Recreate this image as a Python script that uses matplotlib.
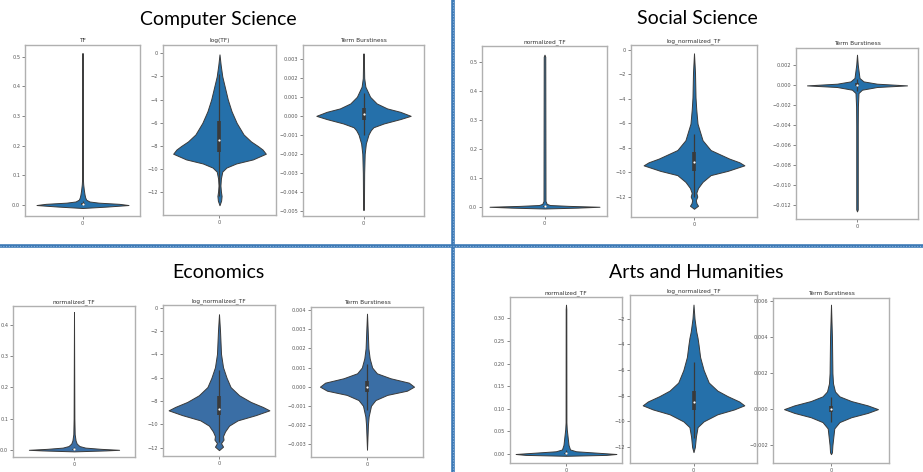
import numpy as np
import matplotlib
matplotlib.use("Agg")
import matplotlib.pyplot as plt
from matplotlib.lines import Line2D

# --- violin profiles: y coordinates and relative density (half-width) ---
# Computer Science
CS_TF_Y = [-0.010, -0.005, 0.0, 0.004, 0.008, 0.012, 0.018, 0.025, 0.035, 0.05, 0.07, 0.09, 0.15, 0.513]
CS_TF_D = [0, 0.55, 1.0, 0.8, 0.35, 0.15, 0.08, 0.06, 0.045, 0.03, 0.015, 0.008, 0.005, 0]
CS_TF_BOX = [-0.001, 0.001, 0.003, 0.006, 0.013]

CS_LOG_Y = [-13.1, -12.7, -12.3, -11.9, -11.4, -10.8, -10.2, -9.85, -9.5, -9.15, -8.66, -8.3, -8.0,
            -7.6, -7.0, -6.0, -5.0, -4.0, -3.0, -2.0, -1.0, -0.1]
CS_LOG_D = [0, 0.035, 0.045, 0.03, 0.02, 0.03, 0.06, 0.15, 0.36, 0.72, 1.0, 0.93, 0.83,
            0.68, 0.52, 0.37, 0.26, 0.18, 0.12, 0.06, 0.025, 0]
CS_LOG_BOX = [-12.3, -8.5, -7.45, -5.8, -1.8]

CS_BURST_Y = [-0.00495, -0.0045, -0.003, -0.002, -0.00145, -0.00098, -0.00075, -0.0006, -0.0004,
              -0.00017, 0.0, 0.00021, 0.00039, 0.00065, 0.001, 0.00153, 0.00198, 0.0027, 0.00328]
CS_BURST_D = [0, 0.01, 0.014, 0.025, 0.05, 0.106, 0.156, 0.21, 0.43,
              0.78, 1.0, 0.78, 0.5, 0.28, 0.14, 0.04, 0.015, 0.01, 0]
CS_BURST_BOX = [-0.001, -0.0002, 0.0001, 0.0004, 0.0012]

# Social Science
SS_TF_Y = [-0.006, -0.003, 0.0, 0.003, 0.006, 0.01, 0.02, 0.52, 0.527]
SS_TF_D = [0, 0.6, 1.0, 0.45, 0.1, 0.04, 0.018, 0.014, 0]
SS_TF_BOX = [-0.001, 0.0, 0.001, 0.002, 0.005]

SS_LOG_Y = [-13.0, -12.75, -12.55, -12.3, -12.0, -11.7, -11.3, -10.8, -10.25, -9.9, -9.45, -9.2,
            -8.9, -8.2, -7.4, -6.05, -4.9, -3.9, -1.9, -0.3]
SS_LOG_D = [0, 0.08, 0.05, 0.035, 0.065, 0.045, 0.08, 0.17, 0.33, 0.67, 1.0, 0.9,
            0.7, 0.33, 0.17, 0.07, 0.045, 0.03, 0.02, 0]
SS_LOG_BOX = [-12.0, -9.9, -9.2, -8.4, -6.9]

SS_BURST_Y = [-0.0126, -0.0124, -0.008, -0.004, -0.0021, -0.00076, -0.00043, -0.00016, 0.0,
              0.00017, 0.0004, 0.00074, 0.00207, 0.00307]
SS_BURST_D = [0, 0.015, 0.015, 0.015, 0.018, 0.03, 0.1, 0.4, 1.0, 0.4, 0.13, 0.05, 0.015, 0]
SS_BURST_BOX = [-0.0006, -0.0001, 0.00005, 0.0002, 0.0006]

# Economics
EC_TF_Y = [-0.005, -0.002, 0.0, 0.003, 0.007, 0.012, 0.02, 0.03, 0.05, 0.1, 0.44]
EC_TF_D = [0, 0.7, 1.0, 0.6, 0.25, 0.12, 0.06, 0.035, 0.015, 0.008, 0]
EC_TF_BOX = [-0.002, 0.0, 0.002, 0.004, 0.01]

EC_LOG_Y = [-12.2, -11.9, -11.6, -11.3, -11.0, -10.6, -10.1, -9.65, -9.2, -8.79, -8.5, -8.07,
            -7.5, -6.8, -6.0, -5.1, -3.96, -1.98, -0.56]
EC_LOG_D = [0, 0.08, 0.04, 0.09, 0.08, 0.12, 0.2, 0.37, 0.73, 1.0, 0.87, 0.63,
            0.4, 0.23, 0.15, 0.08, 0.04, 0.02, 0]
EC_LOG_BOX = [-11.5, -9.2, -8.7, -7.6, -5.3]

EC_BURST_Y = [-0.0033, -0.002, -0.00156, -0.001, -0.0007, -0.00043, -0.00021, 0.0, 0.00021,
              0.00044, 0.0007, 0.001, 0.00148, 0.002, 0.003, 0.00382]
EC_BURST_D = [0, 0.02, 0.035, 0.085, 0.18, 0.43, 0.85, 1.0, 0.89, 0.5, 0.21, 0.11, 0.057, 0.03, 0.014, 0]
EC_BURST_BOX = [-0.0012, -0.0003, 0.0, 0.0003, 0.0012]

# Arts and Humanities
AH_TF_Y = [-0.004, -0.002, 0.0, 0.003, 0.006, 0.01, 0.02, 0.03, 0.04, 0.055, 0.07, 0.32, 0.33]
AH_TF_D = [0, 0.8, 1.0, 0.6, 0.2, 0.08, 0.05, 0.04, 0.03, 0.015, 0.008, 0.006, 0]
AH_TF_BOX = [-0.002, 0.0, 0.0015, 0.003, 0.008]

AH_LOG_Y = [-12.4, -12.0, -11.2, -10.45, -10.0, -9.45, -9.07, -8.75, -8.45, -8.03, -7.6, -6.97,
            -6.0, -4.98, -4.04, -3.49, -2.99, -1.99, -0.89]
AH_LOG_D = [0, 0.027, 0.047, 0.08, 0.2, 0.47, 0.8, 1.0, 0.9, 0.67, 0.47, 0.3,
            0.2, 0.13, 0.1, 0.08, 0.054, 0.02, 0]
AH_LOG_BOX = [-11.3, -9.1, -8.5, -7.6, -5.4]

AH_BURST_Y = [-0.0025, -0.0024, -0.002, -0.00107, -0.00072, -0.00045, -0.00021, 0.0, 0.00021,
              0.00045, 0.00071, 0.00098, 0.00143, 0.002, 0.004, 0.0058]
AH_BURST_D = [0, 0.02, 0.03, 0.07, 0.18, 0.43, 0.78, 1.0, 0.78, 0.43, 0.18, 0.085, 0.043, 0.03, 0.02, 0]
AH_BURST_BOX = [-0.0007, -0.00015, 0.0, 0.0002, 0.0007]

GROUP_TITLES = ["Computer Science", "Social Science", "Economics", "Arts and Humanities"]
CS_TITLES = ["TF", "log(TF)", "Term Burstiness"]
OTHER_TITLES = ["normalized_TF", "log_normalized_TF", "Term Burstiness"]

TF_TICKS_05 = [0.0, 0.1, 0.2, 0.3, 0.4, 0.5]
TF_TICKS_04 = [0.0, 0.1, 0.2, 0.3, 0.4]
TF_TICKS_AH = [0.0, 0.05, 0.10, 0.15, 0.20, 0.25, 0.30]
LOG_TICKS = [0, -2, -4, -6, -8, -10, -12]
LOG_TICKS_AH = [-2, -4, -6, -8, -10, -12]
CS_BURST_TICKS = [0.003, 0.002, 0.001, 0.0, -0.001, -0.002, -0.003, -0.004, -0.005]
SS_BURST_TICKS = [0.002, 0.0, -0.002, -0.004, -0.006, -0.008, -0.010, -0.012]
EC_BURST_TICKS = [0.004, 0.003, 0.002, 0.001, 0.0, -0.001, -0.002, -0.003]
AH_BURST_TICKS = [0.006, 0.004, 0.002, 0.0, -0.002]

W, H = 923, 472
BLUE = "#2570aa"
BLUE_EC = "#3a6ea5"
EDGE = "#3a3a3a"

# (y, density, box, ticks, ylim, title, color, pixel frame l/r/t/b, violin width)
panels = [
    (CS_TF_Y, CS_TF_D, CS_TF_BOX, TF_TICKS_05, (-0.037, 0.54), CS_TITLES[0], BLUE, (25, 140, 45, 216), 0.80),
    (CS_LOG_Y, CS_LOG_D, CS_LOG_BOX, LOG_TICKS, (-13.94, 0.71), CS_TITLES[1], BLUE, (163, 276, 45, 215), 0.82),
    (CS_BURST_Y, CS_BURST_D, CS_BURST_BOX, CS_BURST_TICKS, (-0.00526, 0.00372), CS_TITLES[2], BLUE, (303, 424, 45, 216), 0.78),
    (SS_TF_Y, SS_TF_D, SS_TF_BOX, TF_TICKS_05, (-0.032, 0.557), OTHER_TITLES[0], BLUE, (482, 607, 46, 216), 0.88),
    (SS_LOG_Y, SS_LOG_D, SS_LOG_BOX, LOG_TICKS, (-13.67, 0.38), OTHER_TITLES[1], BLUE, (631, 757, 45, 217), 0.80),
    (SS_BURST_Y, SS_BURST_D, SS_BURST_BOX, SS_BURST_TICKS, (-0.01336, 0.00374), OTHER_TITLES[2], BLUE, (796, 918, 48, 219), 0.82),
    (EC_TF_Y, EC_TF_D, EC_TF_BOX, TF_TICKS_04, (-0.023, 0.4596), OTHER_TITLES[0], BLUE_EC, (13, 135, 306, 457), 0.74),
    (EC_LOG_Y, EC_LOG_D, EC_LOG_BOX, LOG_TICKS, (-12.7, 0.23), OTHER_TITLES[1], BLUE_EC, (163, 275, 305, 456), 0.90),
    (EC_BURST_Y, EC_BURST_D, EC_BURST_BOX, EC_BURST_TICKS, (-0.00368, 0.00417), OTHER_TITLES[2], BLUE_EC, (311, 423, 307, 457), 0.84),
    (AH_TF_Y, AH_TF_D, AH_TF_BOX, TF_TICKS_AH, (-0.0199, 0.347), OTHER_TITLES[0], BLUE, (510, 622, 297, 463), 0.90),
    (AH_LOG_Y, AH_LOG_D, AH_LOG_BOX, LOG_TICKS_AH, (-13.25, -0.14), OTHER_TITLES[1], BLUE, (630, 757, 295, 463), 0.80),
    (AH_BURST_Y, AH_BURST_D, AH_BURST_BOX, AH_BURST_TICKS, (-0.00299, 0.00617), OTHER_TITLES[2], BLUE, (773, 889, 298, 463), 0.81),
]


def draw_violin(ax, ys, dens, box, width, color):
    lo, q1, med, q3, hi = box
    stats = [dict(coords=np.array(ys), vals=np.array(dens), mean=med, median=med,
                  min=ys[0], max=ys[-1])]
    parts = ax.violin(stats, positions=[0], widths=width, showmeans=False,
                      showextrema=False, showmedians=False)
    for body in parts["bodies"]:
        body.set_facecolor(color)
        body.set_edgecolor(EDGE)
        body.set_linewidth(0.7)
        body.set_alpha(1)
    ax.vlines(0, lo, hi, color=EDGE, lw=0.9, zorder=3)
    ax.vlines(0, q1, q3, color=EDGE, lw=2.6, zorder=3)
    ax.scatter([0], [med], s=2.5, color="white", zorder=4, linewidths=0)


fig = plt.figure(figsize=(W / 100, H / 100), dpi=100)
fig.patch.set_facecolor("white")

for ys, dens, box, ticks, ylim, title, color, frame, width in panels:
    l, r, t, b = frame
    ax = fig.add_axes([l / W, 1 - b / H, (r - l) / W, (b - t) / H])
    draw_violin(ax, ys, dens, box, width, color)
    ax.set_xlim(-0.5, 0.5)
    ax.set_ylim(*ylim)
    ax.set_yticks(ticks)
    ax.set_xticks([0])
    ax.set_xticklabels(["0"])
    ax.set_title(title, fontsize=4.2, color="#333333", pad=2)
    ax.tick_params(labelsize=3.6, colors="#555555", length=2, width=0.5, pad=1.5)
    for sp in ax.spines.values():
        sp.set_color("#b0b0b0")
        sp.set_linewidth(1.0)

# group headings
for (x, y), name in zip([(218, 19), (697, 19), (218, 272), (696, 272)], GROUP_TITLES):
    fig.text(x / W, 1 - y / H, name, ha="center", va="center", fontsize=14,
             family="Lato", color="black")

# quadrant separators
vx = 452.7 / W
hy = 1 - 245.7 / H
for xs, ys in [([vx, vx], [0, 1]), ([0, 1], [hy, hy])]:
    fig.add_artist(Line2D(xs, ys, transform=fig.transFigure, color="#3c79b6", lw=2.6))
    fig.add_artist(Line2D(xs, ys, transform=fig.transFigure, color="#8db3da", lw=0.8,
                          linestyle=(0, (1, 1.5))))

fig.savefig("out.png", dpi=100)
